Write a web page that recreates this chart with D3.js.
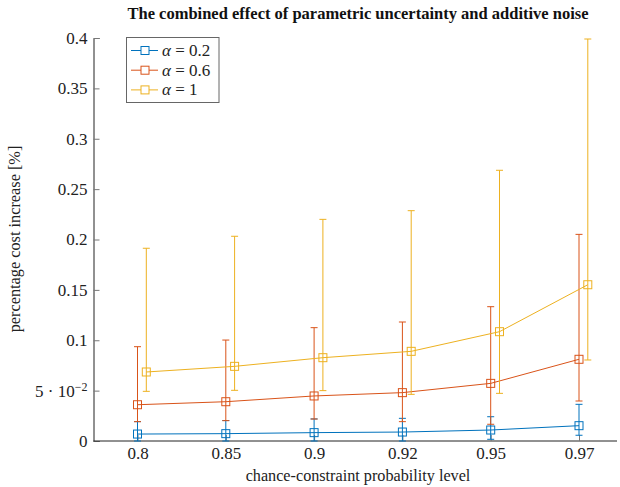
<!DOCTYPE html>
<html>
<head>
<meta charset="utf-8">
<script src="https://cdn.jsdelivr.net/npm/d3@7"></script>
<style>
  body { margin: 0; background: #fff; }
  .serif { font-family: 'Liberation Serif', serif; }
</style>
</head>
<body>
<div id="chart"></div>
<script>
// chance-constraint levels (categories)
const levels = ["0.8", "0.85", "0.9", "0.92", "0.95", "0.97"];

// alpha = 0.2
const mean02 = [0.0069, 0.0073, 0.0083, 0.0089, 0.0109, 0.0152];
const lo02   = [0, 0, 0, 0, 0.0017, 0.0057];
const hi02   = [0.0192, 0.0203, 0.0219, 0.0225, 0.0241, 0.0364];
// alpha = 0.6
const mean06 = [0.036, 0.039, 0.0447, 0.048, 0.0572, 0.0811];
const lo06   = [0.0192, 0.0202, 0.0218, 0.0192, 0.0166, 0.0397];
const hi06   = [0.0936, 0.1002, 0.1125, 0.1181, 0.1333, 0.2051];
// alpha = 1
const mean1  = [0.0685, 0.0741, 0.0827, 0.089, 0.1085, 0.1551];
const lo1    = [0.0493, 0.0503, 0.05, 0.0463, 0.0473, 0.0804];
const hi1    = [0.1913, 0.2032, 0.22, 0.2286, 0.2687, 0.399];

const seriesNames = ["0.2", "0.6", "1"];
const yTicks = [0, 0.05, 0.1, 0.15, 0.2, 0.25, 0.3, 0.35, 0.4];

const width = 620, height = 487;
const margin = {left: 93.5, right: 3, top: 38, bottom: 46};

const series = [
    {name: seriesNames[0], mean: mean02, lo: lo02, hi: hi02, color: "#0072BD", dx: 0},
    {name: seriesNames[1], mean: mean06, lo: lo06, hi: hi06, color: "#D95319", dx: 0},
    {name: seriesNames[2], mean: mean1,  lo: lo1,  hi: hi1,  color: "#EDB120", dx: 8.8}
];

const svg = d3.select("#chart")
    .append("svg")
    .attr("width", width)
    .attr("height", height);

const xScale = d3.scalePoint()
    .domain(levels)
    .range([137.5, 579]);

const yScale = d3.scaleLinear()
    .domain([0, 0.4])
    .range([height - margin.bottom, margin.top]);

// title
svg.append("text")
    .attr("class", "serif")
    .attr("x", 358)
    .attr("y", 19)
    .attr("text-anchor", "middle")
    .attr("fill", "#111")
    .style("font-weight", "bold")
    .style("font-size", "16.5px")
    .text("The combined effect of parametric uncertainty and additive noise");

// y axis
const yAxis = d3.axisLeft(yScale)
    .tickValues(yTicks)
    .tickSize(-6)
    .tickPadding(6)
    .tickFormat(d => d === 0.05 ? "" : d3.format("")(d));

const gy = svg.append("g")
    .attr("transform", `translate(${margin.left},0)`)
    .call(yAxis)
    .attr("class", "serif")
    .attr("font-family", null);
gy.select(".domain").attr("stroke", "#222");
gy.selectAll(".tick line").attr("stroke", "#777");
gy.selectAll(".tick text")
    .attr("class", "serif")
    .style("font-size", "17px")
    .attr("fill", "#222");

// 5 * 10^-2 label with superscript
const sup = gy.selectAll(".tick").filter(d => d === 0.05).select("text");
sup.append("tspan").text("5 · 10");
sup.append("tspan").attr("dy", "-0.45em").style("font-size", "12px").text("−2");

// x axis
const xAxis = d3.axisBottom(xScale)
    .tickSize(-6)
    .tickPadding(6);

const gx = svg.append("g")
    .attr("transform", `translate(0,${height - margin.bottom})`)
    .call(xAxis)
    .attr("class", "serif")
    .attr("font-family", null);
gx.select(".domain")
    .attr("d", `M${margin.left},0H${width - margin.right}`)
    .attr("stroke", "#222");
gx.selectAll(".tick line").attr("stroke", "#777");
gx.selectAll(".tick text")
    .attr("class", "serif")
    .style("font-size", "17px")
    .attr("fill", "#222");

// axis labels
svg.append("text")
    .attr("class", "serif")
    .attr("x", 358)
    .attr("y", 481)
    .attr("text-anchor", "middle")
    .attr("fill", "#222")
    .style("font-size", "16.2px")
    .text("chance-constraint probability level");

svg.append("text")
    .attr("class", "serif")
    .attr("transform", "translate(20,239) rotate(-90)")
    .attr("text-anchor", "middle")
    .attr("fill", "#222")
    .style("font-size", "16.3px")
    .text("percentage cost increase [%]");

// series
const line = d3.line()
    .x((d, i) => xScale(levels[i]))
    .y(d => yScale(d));

series.forEach(s => {
    const g = svg.append("g")
        .attr("transform", `translate(${s.dx},0)`);

    g.append("path")
        .attr("d", line(s.mean))
        .attr("fill", "none")
        .attr("stroke", s.color)
        .attr("stroke-width", 1);

    const pts = levels.map((l, i) => ({l: l, m: s.mean[i], lo: s.lo[i], hi: s.hi[i]}));

    const err = g.selectAll(".err")
        .data(pts)
        .enter()
        .append("g")
        .attr("stroke", s.color)
        .attr("stroke-width", 1);
    err.append("line")
        .attr("x1", d => xScale(d.l)).attr("x2", d => xScale(d.l))
        .attr("y1", d => yScale(d.lo)).attr("y2", d => yScale(d.hi));
    err.append("line")
        .attr("x1", d => xScale(d.l) - 3.5).attr("x2", d => xScale(d.l) + 3.5)
        .attr("y1", d => yScale(d.hi)).attr("y2", d => yScale(d.hi));
    err.append("line")
        .attr("x1", d => xScale(d.l) - 3.5).attr("x2", d => xScale(d.l) + 3.5)
        .attr("y1", d => yScale(d.lo)).attr("y2", d => yScale(d.lo));

    g.selectAll(".pt")
        .data(pts)
        .enter()
        .append("rect")
        .attr("x", d => xScale(d.l) - 4)
        .attr("y", d => yScale(d.m) - 4)
        .attr("width", 8)
        .attr("height", 8)
        .attr("fill", "none")
        .attr("stroke", s.color)
        .attr("stroke-width", 1);
});

// legend
const legend = svg.append("g");
legend.append("rect")
    .attr("x", 126.5)
    .attr("y", 37.5)
    .attr("width", 92.5)
    .attr("height", 65)
    .attr("fill", "#fff")
    .attr("stroke", "#666");

series.forEach((s, i) => {
    const y = 50.5 + i * 19.7;
    legend.append("line")
        .attr("x1", 131).attr("x2", 158)
        .attr("y1", y).attr("y2", y)
        .attr("stroke", s.color);
    legend.append("rect")
        .attr("x", 141).attr("y", y - 4)
        .attr("width", 8).attr("height", 8)
        .attr("fill", "#fff")
        .attr("stroke", s.color);
    const t = legend.append("text")
        .attr("class", "serif")
        .attr("x", 162)
        .attr("y", y + 5.5)
        .attr("fill", "#222")
        .style("font-size", "17px");
    t.append("tspan").style("font-style", "italic").text("α");
    t.append("tspan").text(" = " + s.name);
});
</script>
</body>
</html>
